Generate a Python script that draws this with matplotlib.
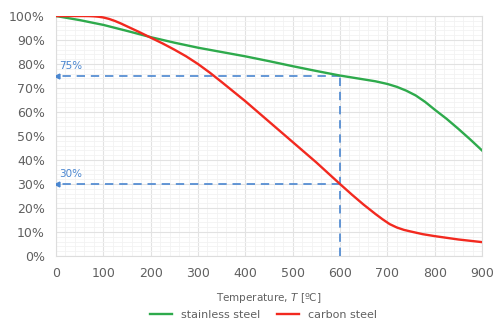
import matplotlib
matplotlib.use('Agg')
import matplotlib.pyplot as plt
from matplotlib.ticker import MultipleLocator, PercentFormatter

# Reduction factor of yield strength vs temperature
stainless_t = [0, 50, 100, 150, 200, 250, 300, 350, 400, 450, 500, 550, 600, 625, 650, 675,
               700, 720, 740, 760, 780, 800, 825, 850, 875, 900]
stainless_v = [100, 98.3, 96.3, 93.8, 91.2, 88.9, 86.8, 85.0, 83.2, 81.2, 79.1, 77.1, 75.2,
               74.4, 73.6, 72.8, 71.7, 70.5, 68.9, 66.9, 64.2, 61.0, 57.2, 53.0, 48.6, 44.0]

carbon_t = [0, 25, 50, 60, 70, 80, 90, 100, 112, 125, 137, 150, 175, 200, 225, 250, 275, 300,
            325, 350, 400, 450, 500, 550, 600, 625, 650, 675, 690, 705, 720, 735, 750, 775,
            800, 850, 900]
carbon_v = [100, 100, 100, 100, 99.97, 99.88, 99.7, 99.4, 98.8, 97.9, 96.9, 95.7, 93.4, 91.0,
            88.6, 86.0, 83.2, 80.0, 76.4, 72.5, 64.5, 56.0, 47.5, 39.0, 30.0, 25.6, 21.4,
            17.5, 15.3, 13.3, 11.9, 10.9, 10.2, 9.1, 8.3, 6.9, 5.8]

ref_t = 600
ref_stainless = 75
ref_carbon = 30

green = '#2eaa4c'
red = '#f2291f'
blue = '#4a86d0'
grey = '#606060'

fig = plt.figure(figsize=(4.93, 3.27), dpi=100)
ax = fig.add_axes([0.1136, 0.217, 0.8641, 0.734])

ax.plot(stainless_t, stainless_v, color=green, lw=1.7, label='stainless steel', zorder=4)
ax.plot(carbon_t, carbon_v, color=red, lw=1.7, label='carbon steel', zorder=4)

# reference lines at 600 °C
for v in (ref_stainless, ref_carbon):
    ax.plot([ref_t, 4], [v, v], color=blue, lw=1.2, dashes=(5, 3.5), zorder=3)
    ax.plot([2], [v], marker='<', color=blue, ms=3.5, zorder=3)
    ax.text(6, v + 2.2, f'{v}%', color=blue, fontsize=7.5, ha='left', va='bottom')
ax.plot([ref_t, ref_t], [0, ref_stainless], color=blue, lw=1.2, dashes=(5, 3.5), zorder=3)

ax.set_xlim(0, 900)
ax.set_ylim(0, 100)
ax.xaxis.set_major_locator(MultipleLocator(100))
ax.xaxis.set_minor_locator(MultipleLocator(20))
ax.yaxis.set_major_locator(MultipleLocator(10))
ax.yaxis.set_minor_locator(MultipleLocator(2))
ax.yaxis.set_major_formatter(PercentFormatter(decimals=0))
ax.grid(which='major', color='#e2e2e2', lw=0.8)
ax.grid(which='minor', color='#f2f2f2', lw=0.6)
ax.set_axisbelow(True)
for s in ax.spines.values():
    s.set_color('#dddddd')
    s.set_linewidth(0.8)
ax.tick_params(which='both', length=0, colors=grey, labelsize=9, pad=8)

ax.set_xlabel('Temperature, $T$ [ºC]', color=grey, fontsize=7.5, labelpad=8)

fig.legend(loc='lower center', bbox_to_anchor=(0.535, -0.01), ncol=2, frameon=False,
           fontsize=8, labelcolor=grey, handlelength=2.0, columnspacing=1.5)

fig.savefig('out.png', dpi=100)
